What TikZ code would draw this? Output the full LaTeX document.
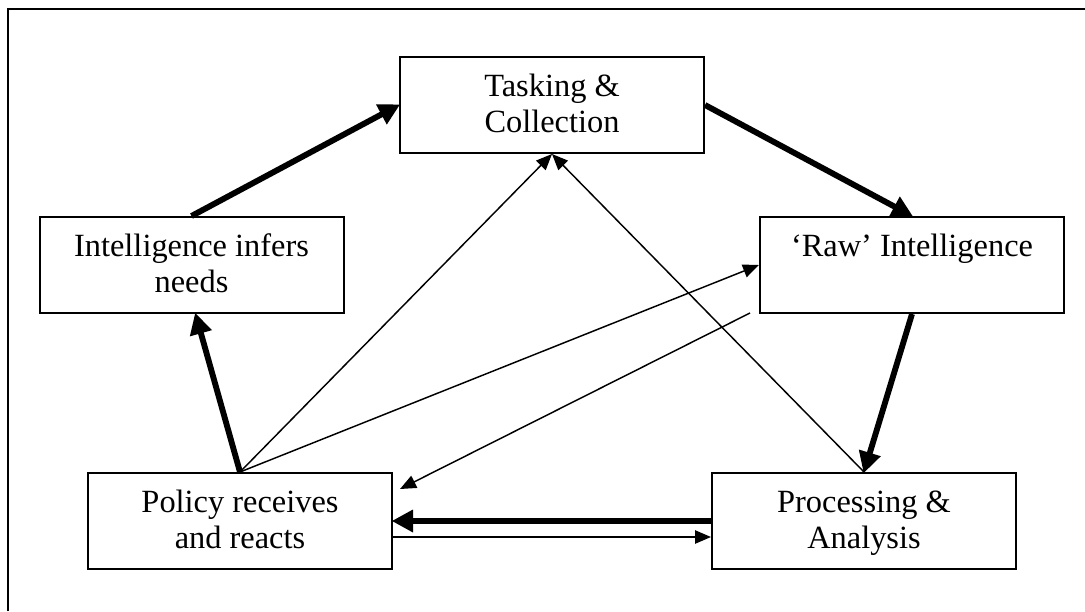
\documentclass[tikz,border=0pt]{standalone}
\usepackage{fontspec}
\setmainfont{Liberation Serif}
\usetikzlibrary{arrows.meta}
\tikzset{
  boxnode/.style={draw, line width=1.5pt, minimum width=228pt, minimum height=72pt, inner sep=0pt},
  txtnode/.style={anchor=north, inner sep=0pt, align=center, font=\fontsize{24.3}{27}\selectfont},
  thickarr/.style={line width=4.4pt, -{Triangle[length=16pt,width=16pt]}, shorten >=-1pt},
  thinarr/.style={line width=1.1pt, -{Triangle[length=12pt,width=10pt]}},
}
\begin{document}
\begin{tikzpicture}[x=0.75pt,y=-0.75pt]
\useasboundingbox (0,0) rectangle (1085,611);
\draw[line width=1.6pt] (8,611) -- (8,9) -- (1085,9);
% boxes
\node[boxnode] (T) at (552,105) {};
\node[boxnode] (I) at (191.5,265) {};
\node[boxnode] (R) at (912,265) {};
\node[boxnode] (Po) at (240,521) {};
\node[boxnode] (P) at (864,521) {};
% texts
\node[txtnode] (Tt) at ([yshift=-11pt]T.north) {\strut Tasking \&\\Collection};
\node[txtnode] (It) at ([yshift=-11pt]I.north) {\strut Intelligence infers\\needs};
\node[txtnode] (Rt) at ([yshift=-11pt]R.north) {\strut ‘Raw’ Intelligence};
\node[txtnode] (Pot) at ([yshift=-11pt]Po.north) {\strut Policy receives\\and reacts};
\node[txtnode] (Pt) at ([yshift=-11pt]P.north) {\strut Processing \&\\Analysis};
% thick cycle
\draw[thickarr] (I.north) -- (T.west);
\draw[thickarr] (T.east) -- (R.north);
\draw[thickarr] (R.south) -- (P.north);
\draw[thickarr] (P.west) -- (Po.east);
\draw[thickarr] (Po.north) -- ([xshift=3pt]I.south);
% thin arrows
\draw[thinarr] ([yshift=-12pt]Po.east) -- ([yshift=-12pt]P.west);
\draw[thinarr] (Po.north) -- (T.south);
\draw[thinarr] (Po.north) -- (R.west);
\draw[thinarr] (P.north) -- (T.south);
\coordinate (rs) at (750,313);
\coordinate (pe) at (400,489);
\draw[thinarr] (rs) -- (pe);
\end{tikzpicture}
\end{document}
